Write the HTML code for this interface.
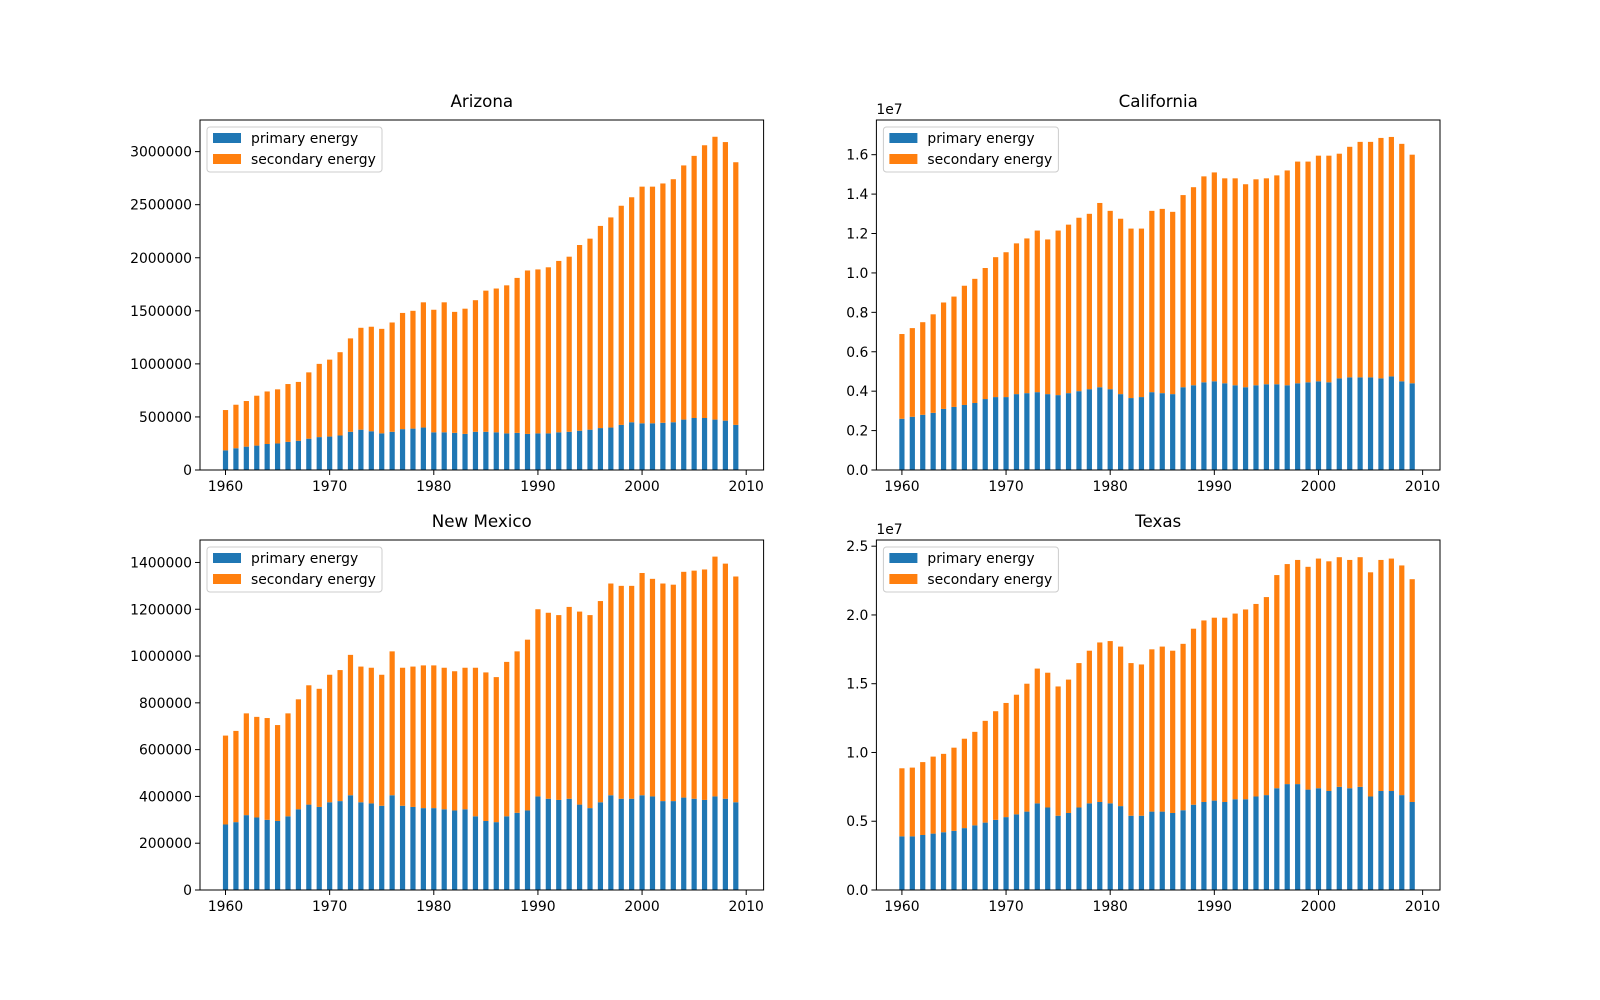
<!DOCTYPE html>
<html><head><meta charset="utf-8">
<style>
html,body{margin:0;padding:0;background:#fff;}
svg{display:block;font-family:"DejaVu Sans","Liberation Sans",sans-serif;}
</style></head>
<body>
<svg id="fig" width="1600" height="1000" viewBox="0 0 1600 1000"></svg>
<script>
const years = Array.from({length:50},(_,i)=>1960+i);
const azTotal=[565,615,650,700,740,760,810,830,920,1000,1040,1110,1240,1340,1350,1330,1390,1480,1500,1580,1510,1580,1490,1520,1600,1690,1710,1740,1810,1880,1890,1910,1970,2010,2120,2180,2300,2380,2490,2570,2670,2670,2700,2740,2870,2960,3060,3140,3090,2900];
const azPrimary=[185,205,220,230,245,250,265,275,295,310,315,325,360,380,365,345,360,385,390,400,355,355,350,340,360,360,355,345,350,340,345,345,355,360,370,380,395,400,425,450,440,440,445,450,475,490,490,475,465,425];
const caTotal=[6.9,7.2,7.5,7.9,8.5,8.8,9.35,9.7,10.25,10.8,11.05,11.5,11.75,12.15,11.7,12.15,12.45,12.8,13.0,13.55,13.15,12.75,12.25,12.25,13.15,13.25,13.1,13.95,14.35,14.9,15.1,14.8,14.8,14.5,14.75,14.8,14.95,15.2,15.65,15.65,15.95,15.95,16.05,16.4,16.65,16.65,16.85,16.9,16.55,16.0];
const caPrimary=[2.6,2.7,2.8,2.9,3.1,3.2,3.3,3.4,3.6,3.7,3.7,3.85,3.9,3.95,3.85,3.8,3.9,4.0,4.1,4.2,4.1,3.85,3.65,3.7,3.95,3.9,3.85,4.2,4.3,4.45,4.5,4.4,4.3,4.2,4.3,4.35,4.35,4.3,4.4,4.45,4.5,4.45,4.65,4.7,4.7,4.7,4.65,4.75,4.5,4.4];
const nmTotal=[660,680,755,740,735,705,755,815,875,860,920,940,1005,955,950,920,1020,950,955,960,960,950,935,950,950,930,910,975,1020,1070,1200,1185,1175,1210,1190,1175,1235,1310,1300,1300,1355,1330,1310,1305,1360,1365,1370,1425,1395,1340];
const nmPrimary=[280,290,320,310,300,295,315,345,365,355,375,380,405,375,370,360,405,360,355,350,350,345,340,345,315,295,290,315,330,340,400,390,385,390,365,350,375,405,390,390,405,400,380,380,395,390,385,400,390,375];
const txTotal=[0.885,0.89,0.93,0.97,0.99,1.035,1.1,1.15,1.23,1.3,1.36,1.42,1.5,1.61,1.58,1.48,1.53,1.65,1.74,1.8,1.81,1.77,1.65,1.64,1.75,1.77,1.74,1.79,1.9,1.96,1.98,1.98,2.01,2.04,2.08,2.13,2.29,2.37,2.4,2.35,2.41,2.39,2.42,2.4,2.42,2.31,2.4,2.41,2.36,2.26];
const txPrimary=[0.39,0.39,0.4,0.41,0.42,0.43,0.45,0.47,0.49,0.51,0.53,0.55,0.57,0.63,0.6,0.54,0.56,0.6,0.63,0.64,0.63,0.61,0.54,0.54,0.57,0.57,0.56,0.58,0.62,0.64,0.65,0.64,0.66,0.66,0.68,0.69,0.74,0.77,0.77,0.73,0.74,0.72,0.75,0.74,0.75,0.68,0.72,0.72,0.69,0.64];
const xTicks=[1960,1970,1980,1990,2000,2010];
const azTicks=[0,500000,1000000,1500000,2000000,2500000,3000000];
const caTicks=[0,0.2,0.4,0.6,0.8,1.0,1.2,1.4,1.6];
const nmTicks=[0,200000,400000,600000,800000,1000000,1200000,1400000];
const txTicks=[0,0.5,1.0,1.5,2.0,2.5];

const NS="http://www.w3.org/2000/svg";
const svg=document.getElementById('fig');
function mk(tag,attrs,parent){const e=document.createElementNS(NS,tag);for(const k in attrs)e.setAttribute(k,attrs[k]);(parent||svg).appendChild(e);return e;}

function panel(cfg){
  const {L,T,R,B,title,total,primary,scale,ymax,ticks,tickFmt,offset,slug}=cfg;
  const g=mk('g',{});
  
  
  const xmin=1957.55,xmax=2011.67;
  const xs=v=>L+(v-xmin)/(xmax-xmin)*(R-L);
  const ys=v=>B-v/ymax*(B-T);
  const bw=(xs(1)-xs(0))*0.5;
  years.forEach((yr,i)=>{
    const p=primary[i]*scale, t=total[i]*scale;
    const r1=mk('rect',{x:xs(yr)-bw/2,y:ys(p),width:bw,height:B-ys(p),fill:'#1f77b4'},g);
    
    
    const r2=mk('rect',{x:xs(yr)-bw/2,y:ys(t),width:bw,height:ys(p)-ys(t),fill:'#ff7f0e'},g);
    
    
  });
  const fr=mk('rect',{x:L,y:T,width:R-L,height:B-T,fill:'none',stroke:'#000','stroke-width':1},g);
  
  
  xTicks.forEach(v=>{
    const x=xs(v);
    mk('line',{x1:x,x2:x,y1:B,y2:B+5,stroke:'#000'},g);
    const t=mk('text',{x:x,y:B+21,'font-size':13.9,'text-anchor':'middle'},g);
    t.textContent=v;
    
    
  });
  ticks.forEach(v=>{
    const y=ys(v*scale);
    mk('line',{x1:L-5,x2:L,y1:y,y2:y,stroke:'#000'},g);
    const t=mk('text',{x:L-8,y:y+5,'font-size':13.9,'text-anchor':'end'},g);
    t.textContent=tickFmt(v);
    
    
  });
  if(offset){
    const t=mk('text',{x:L,y:T-6,'font-size':13.9},g);
    t.textContent=offset;
    
    
  }
  const tt=mk('text',{x:(L+R)/2,y:T-13,'font-size':16.7,'text-anchor':'middle'},g);
  tt.textContent=title;
  
  
  const lg=mk('g',{},g);
  
  
  mk('rect',{x:L+7,y:T+7,width:175,height:45,rx:3,fill:'#fff','fill-opacity':0.8,stroke:'#ccc'},lg);
  mk('rect',{x:L+13,y:T+13,width:28,height:10,fill:'#1f77b4'},lg);
  mk('rect',{x:L+13,y:T+34,width:28,height:10,fill:'#ff7f0e'},lg);
  const l1=mk('text',{x:L+51,y:T+23,'font-size':13.9},lg); l1.textContent='primary energy';
  
  
  const l2=mk('text',{x:L+51,y:T+44,'font-size':13.9},lg); l2.textContent='secondary energy';
  
  
}
const plain=v=>String(Math.round(v));
const dec1=v=>v.toFixed(1);
panel({L:200,T:120,R:763.6,B:470,title:'Arizona',total:azTotal,primary:azPrimary,scale:1000,ymax:3.298e6,ticks:azTicks.map(v=>v/1000),tickFmt:v=>plain(v*1000),slug:'arizona'});
panel({L:876.4,T:120,R:1440,B:470,title:'California',total:caTotal,primary:caPrimary,scale:1,ymax:17.76,ticks:caTicks.map(v=>v*10),tickFmt:v=>dec1(v/10),offset:'1e7',slug:'california'});
panel({L:200,T:540,R:763.6,B:890,title:'New Mexico',total:nmTotal,primary:nmPrimary,scale:1000,ymax:1.496e6,ticks:nmTicks.map(v=>v/1000),tickFmt:v=>plain(v*1000),slug:'new-mexico'});
panel({L:876.4,T:540,R:1440,B:890,title:'Texas',total:txTotal,primary:txPrimary,scale:1,ymax:2.545,ticks:txTicks,tickFmt:dec1,offset:'1e7',slug:'texas'});
</script>
</body></html>
